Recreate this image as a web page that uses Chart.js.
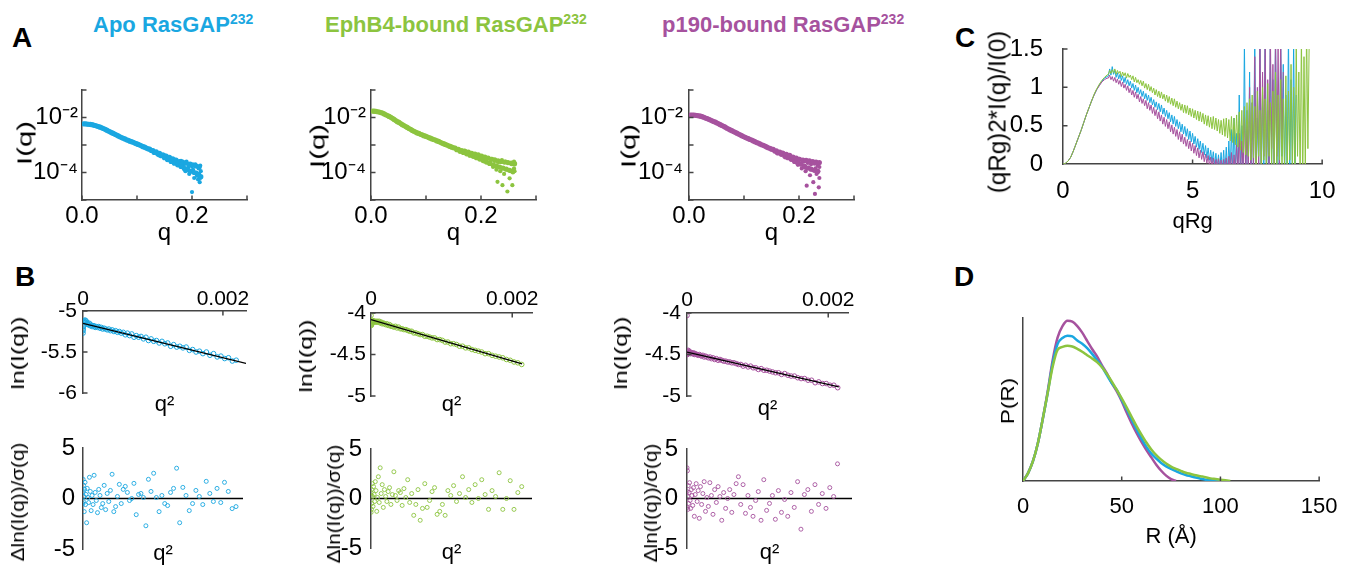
<!DOCTYPE html>
<html>
<head>
<meta charset="utf-8">
<script src="https://cdn.jsdelivr.net/npm/chart.js@4.4.1/dist/chart.umd.min.js"></script>
<style>
body { margin: 0; background: #fff; }
#fig { position: relative; width: 1353px; height: 569px; overflow: hidden; font-family: "Liberation Sans", Arial, sans-serif; }
#fig canvas { position: absolute; }
.letter { position: absolute; font-size: 28px; font-weight: bold; line-height: 1; color: #000; }
.coltitle { position: absolute; font-size: 22px; font-weight: bold; line-height: 1; white-space: nowrap; }
.coltitle span { font-size: 14px; position: relative; top: -8px; }
.ytitle { position: absolute; line-height: 1; white-space: nowrap; color: #000; }
</style>
</head>
<body>
<div id="fig">
  <div class="letter" style="left:12px;top:24px">A</div>
  <div class="letter" style="left:15px;top:263px">B</div>
  <div class="letter" style="left:955px;top:24px">C</div>
  <div class="letter" style="left:954px;top:263px">D</div>
  <div class="coltitle" style="left:93px;top:14px;color:#1aa7e1">Apo RasGAP<span>232</span></div>
  <div class="coltitle" style="left:325px;top:14px;color:#8cc43f">EphB4-bound RasGAP<span>232</span></div>
  <div class="coltitle" style="left:662px;top:14px;color:#a6529e">p190-bound RasGAP<span>232</span></div>
</div>
<script>
var BLUE = '#1aa7e1', GREEN = '#8cc43f', PURPLE = '#a6529e';
var AXIS = '#444';
var FAMILY = '"Liberation Sans", Arial, sans-serif';

var qGridA = [0.003,0.006,0.009,0.012,0.015,0.018,0.021,0.024,0.027,0.03,
  0.033,0.036,0.039,0.042,0.045,0.048,0.051,0.054,0.057,0.06,
  0.063,0.066,0.069,0.072,0.075,0.078,0.081,0.084,0.087,0.09,
  0.093,0.096,0.099,0.102,0.105,0.108,0.111,0.114,0.117,0.12,
  0.123,0.126,0.129,0.132,0.135,0.138,0.141,0.144,0.147,0.15,
  0.153,0.156,0.159,0.162,0.165,0.168,0.171,0.174,0.177,0.18,
  0.183,0.186,0.189,0.192,0.195,0.198,0.201,0.204,0.207,0.21,
  0.213,0.216,0.219,0.222,0.225,0.228,0.231,0.234,0.237,0.24,
  0.243,0.246,0.249,0.252,0.255,0.258,0.261];
var apoLogI = [-2.23,-2.23,-2.24,-2.245,-2.25,-2.26,-2.275,-2.29,-2.31,-2.33,
  -2.35,-2.375,-2.40,-2.43,-2.46,-2.49,-2.52,-2.55,-2.58,-2.61,
  -2.64,-2.67,-2.70,-2.73,-2.755,-2.78,-2.81,-2.83,-2.86,-2.88,
  -2.90,-2.93,-2.95,-2.98,-3.00,-3.03,-3.06,-3.08,-3.11,-3.14,
  -3.15,-3.20,-3.20,-3.27,-3.25,-3.33,-3.30,-3.39,-3.36,-3.46,
  -3.40,-3.52,-3.45,-3.60,-3.50,-3.66,-3.55,-3.72,-3.60,-3.78,
  -3.62,-3.85,-3.66,-3.90,-3.70,-3.95,-3.72,-4.00,-3.76,-4.10,
  -3.80,-4.15];
var ephLogI = [-1.77,-1.77,-1.78,-1.79,-1.80,-1.82,-1.84,-1.87,-1.90,-1.93,
  -1.96,-1.995,-2.03,-2.07,-2.11,-2.15,-2.18,-2.22,-2.26,-2.29,
  -2.33,-2.36,-2.40,-2.43,-2.47,-2.50,-2.53,-2.56,-2.58,-2.61,
  -2.63,-2.66,-2.68,-2.70,-2.73,-2.75,-2.78,-2.80,-2.82,-2.85,
  -2.87,-2.90,-2.93,-2.95,-2.98,-3.00,-3.03,-3.05,-3.08,-3.10,
  -3.11,-3.17,-3.16,-3.23,-3.20,-3.27,-3.23,-3.32,-3.26,-3.37,
  -3.30,-3.41,-3.33,-3.46,-3.36,-3.51,-3.40,-3.56,-3.44,-3.62,
  -3.48,-3.67,-3.52,-3.72,-3.54,-3.76,-3.58,-3.80,-3.60,-3.84,
  -3.62,-3.88,-3.64,-3.92,-3.66,-3.95,-3.68];
var p190LogI = [-1.91,-1.91,-1.915,-1.92,-1.93,-1.94,-1.95,-1.97,-1.99,-2.02,
  -2.04,-2.065,-2.09,-2.12,-2.145,-2.17,-2.20,-2.23,-2.26,-2.29,
  -2.32,-2.35,-2.39,-2.42,-2.45,-2.48,-2.51,-2.54,-2.57,-2.60,
  -2.63,-2.66,-2.69,-2.72,-2.745,-2.77,-2.80,-2.82,-2.85,-2.88,
  -2.91,-2.93,-2.96,-2.99,-3.01,-3.04,-3.07,-3.10,-3.12,-3.15,
  -3.16,-3.22,-3.21,-3.29,-3.26,-3.34,-3.30,-3.40,-3.34,-3.46,
  -3.38,-3.52,-3.44,-3.60,-3.48,-3.66,-3.52,-3.70,-3.55,-3.78,
  -3.56,-3.84,-3.58,-3.88,-3.60,-3.92,-3.62,-3.96,-3.64];
// scattered high-q points
var apoTailQ = [0.13,0.14,0.15,0.155,0.16,0.165,0.17,0.175,0.18,0.182,0.185,0.188,0.19,0.193,0.195,
  0.197,0.2,0.2,0.202,0.204,0.206,0.208,0.21,0.211,0.212,0.213,0.214,0.215,0.215,0.216];
var apoTailLogI = [-3.28,-3.38,-3.38,-3.55,-3.47,-3.62,-3.54,-3.68,-3.58,-3.75,-3.7,-3.95,-3.6,-3.82,-4.05,
  -3.68,-3.78,-4.71,-3.9,-4.2,-3.7,-4.0,-3.78,-4.25,-3.85,-4.05,-4.35,-3.75,-4.2,-3.95];
var ephTailQ = [0.17,0.18,0.19,0.2,0.205,0.21,0.215,0.22,0.222,0.225,0.228,0.23,0.232,0.235,0.238,
  0.239,0.24,0.242,0.245,0.248,0.248,0.25,0.252,0.254,0.256,0.257,0.258,0.26,0.26,0.261];
var ephTailLogI = [-3.2,-3.38,-3.45,-3.4,-3.6,-3.48,-3.68,-3.5,-3.8,-3.58,-3.9,-4.34,-3.62,-3.95,-3.55,
  -4.46,-3.85,-4.05,-3.6,-3.9,-4.69,-3.65,-4.21,-3.95,-3.7,-4.46,-4.0,-3.6,-3.85,-3.95];
var p190TailQ = [0.16,0.17,0.175,0.18,0.185,0.19,0.195,0.198,0.2,0.203,0.205,0.208,0.21,0.212,0.214,
  0.216,0.218,0.22,0.222,0.224,0.226,0.228,0.229,0.23,0.232,0.234,0.235,0.236,0.237,0.237];
var p190TailLogI = [-3.3,-3.28,-3.45,-3.38,-3.52,-3.45,-3.6,-3.72,-3.5,-3.68,-3.85,-3.6,-3.75,-3.95,-4.48,
  -3.65,-3.82,-4.1,-3.7,-3.9,-4.35,-3.68,-4.78,-3.85,-4.05,-3.75,-3.95,-4.54,-3.8,-4.2];
var qTicksA = [0, 0.1, 0.2, 0.3];
var qLabelsA = ['0.0', '', '0.2', ''];
var iTicksA = [1e-5, 1e-4, 1e-3, 1e-2, 1e-1];
var iLabelsA = ['', '10\u207B\u2074', '', '10\u207B\u00B2', ''];

// ---- panel B : Guinier region (q^2, ln I) and residuals ----
var q2Grid = [0.0000004,0.0000014,0.0000032,0.0000058,0.000009,0.000013,0.0000176,0.000023,0.0000292,0.000036,
  0.0000436,0.0000518,0.0000608,0.0000706,0.000081,0.0000922,0.000104,0.0001166,0.00013,0.000144,
  0.0001588,0.0001742,0.0001904,0.0002074,0.000225,0.0002434,0.0002624,0.0002822,0.0003028,0.000324,
  0.000346,0.0003686,0.000392,0.0004162,0.000441,0.0004666,0.0004928,0.0005198,0.0005476,0.000576,
  0.0006052,0.000635,0.0006656,0.000697,0.000729,0.0007618,0.0007952,0.0008294,0.0008644,0.0009,
  0.0009364,0.0009734,0.0010112,0.0010498,0.001089,0.001129,0.0011696,0.001211,0.0012532,0.001296,
  0.0013396,0.0013838,0.0014288,0.0014746,0.001521,0.0015682,0.001616,0.0016646,0.001714,0.001764,
  0.0018148,0.0018662,0.0019184,0.0019714,0.002025,0.0020794,0.0021344,0.0021902];
var apoLnI = [-5.27,-5.24,-5.22,-5.19,-5.17,-5.14,-5.12,-5.13,-5.11,-5.14,
  -5.12,-5.16,-5.14,-5.16,-5.17,-5.15,-5.18,-5.17,-5.19,-5.18,
  -5.18,-5.20,-5.19,-5.20,-5.19,-5.21,-5.20,-5.22,-5.21,-5.22,
  -5.23,-5.22,-5.24,-5.23,-5.25,-5.24,-5.26,-5.25,-5.27,-5.26,
  -5.29,-5.27,-5.30,-5.28,-5.32,-5.30,-5.32,-5.31,-5.34,-5.32,
  -5.36,-5.34,-5.37,-5.36,-5.39,-5.37,-5.40,-5.39,-5.43,-5.41,
  -5.44,-5.43,-5.45,-5.44,-5.48,-5.47,-5.50,-5.49,-5.52,-5.50,
  -5.54,-5.52,-5.56,-5.55,-5.58,-5.57,-5.61,-5.60];
var ephLnI = [-4.03,-4.13,-4.15,-4.11,-4.14,-4.10,-4.12,-4.09,-4.11,-4.10,
  -4.10,-4.10,-4.11,-4.10,-4.11,-4.10,-4.11,-4.10,-4.12,-4.11,
  -4.13,-4.12,-4.13,-4.14,-4.13,-4.15,-4.14,-4.16,-4.16,-4.17,
  -4.16,-4.18,-4.17,-4.19,-4.19,-4.20,-4.20,-4.21,-4.22,-4.22,
  -4.24,-4.24,-4.25,-4.26,-4.26,-4.28,-4.28,-4.29,-4.30,-4.30,
  -4.32,-4.32,-4.33,-4.35,-4.35,-4.37,-4.37,-4.38,-4.40,-4.40,
  -4.42,-4.42,-4.44,-4.45,-4.46,-4.47,-4.49,-4.49,-4.51,-4.52,
  -4.53,-4.54,-4.56,-4.57,-4.59,-4.60,-4.62];
var p190LnI = [-4.03,-4.49,-4.47,-4.50,-4.46,-4.49,-4.45,-4.48,-4.46,-4.48,
  -4.47,-4.49,-4.48,-4.48,-4.49,-4.48,-4.50,-4.49,-4.50,-4.50,
  -4.51,-4.50,-4.51,-4.52,-4.51,-4.53,-4.52,-4.53,-4.54,-4.53,
  -4.55,-4.54,-4.56,-4.55,-4.57,-4.56,-4.57,-4.58,-4.58,-4.59,
  -4.59,-4.60,-4.60,-4.61,-4.62,-4.62,-4.64,-4.63,-4.65,-4.64,
  -4.66,-4.66,-4.68,-4.67,-4.69,-4.69,-4.70,-4.71,-4.72,-4.72,
  -4.74,-4.73,-4.75,-4.76,-4.76,-4.78,-4.79,-4.79,-4.81,-4.81,
  -4.84,-4.83,-4.85,-4.85,-4.87,-4.87,-4.90];
var apoFitQ2 = [0, 0.00233], apoFitLnI = [-5.15, -5.64];
var ephFitQ2 = [0, 0.00214], ephFitLnI = [-4.08, -4.613];
var p190FitQ2 = [0, 0.00215], p190FitLnI = [-4.47, -4.89];
var apoRes = [-0.5,1.9,0.7,-0.3,1.3,0.2,-1.3,0.9,1.6,-0.6,
  0.4,-2.4,1.0,0.1,-0.4,2.1,0.7,-1.2,0.3,-0.6,
  2.3,0.6,-0.2,-1.4,0.9,0.3,-0.9,-0.5,1.3,-1.1,
  0.5,-0.3,0.8,2.4,-1.3,-0.8,0.2,1.4,-0.5,0.9,
  1.2,0.6,-0.2,0.0,1.5,-1.6,0.4,0.5,0.1,-2.7,
  1.9,0.7,2.5,0.1,-1.3,0.3,-0.5,-0.7,0.6,1.0,
  3.0,-2.4,1.1,0.3,-1.2,-0.5,0.8,0.2,-0.6,1.7,
  0.5,-0.3,1.0,-0.4,1.6,0.7,-1.0,-0.8];
var ephRes = [0.6,-1.4,0.3,-1.1,0.9,-0.5,1.5,0.2,-0.8,1.2,
  0.4,-0.3,1.7,0.8,-1.3,0.1,2.2,-0.4,3.1,0.5,
  1.4,-0.9,0.9,0.2,-0.3,0.7,1.1,-0.6,0.4,2.7,
  0.3,-0.2,0.8,0.6,-0.7,1.0,0.1,1.9,-0.4,0.5,
  -1.7,-0.6,0.9,-2.2,-1.0,1.5,-0.9,-0.2,0.7,1.1,
  -1.6,-1.3,-0.6,-1.7,0.8,0.3,1.3,-0.3,0.5,2.2,
  0.1,0.9,-0.4,1.4,0.0,1.9,0.4,-1.1,0.8,0.2,
  2.6,-1.1,0.0,1.8,-1.1,0.6,1.2];
var p190Res = [3.1,0.7,-0.9,2.8,0.2,-1.1,1.3,-0.5,0.6,1.6,
  -0.2,-1.0,0.9,0.3,-0.7,1.1,-1.8,0.4,1.5,-0.3,
  0.8,-2.0,1.2,-0.6,0.5,1.7,-1.3,0.1,-0.8,1.6,
  0.3,-1.6,0.9,-0.4,1.2,0.2,-2.2,0.6,-1.0,0.0,
  0.9,-1.4,0.4,1.5,2.2,-0.6,1.4,-1.5,0.3,-0.9,
  -1.8,-0.2,0.7,-2.2,1.9,-1.2,-0.5,0.3,-2.1,0.8,
  -1.4,-0.1,-1.8,0.6,-0.9,1.7,-3.1,0.4,0.9,-1.3,
  1.4,-0.6,0.5,-1.0,1.1,0.2,3.5];

// ---- panel C : dimensionless Kratky ----
var qRgGrid = [0,0.1,0.2,0.3,0.4,0.5,0.6,0.7,0.8,0.9,1.0,1.1,1.2,1.3,1.4,1.5,1.6,1.7,
  1.75,1.8,1.85,1.9,1.95,2.0,2.05,2.1,2.15,2.2,
  2.25,2.3,2.35,2.4,2.45,2.5,2.55,2.6,2.65,2.7,
  2.75,2.8,2.85,2.9,2.95,3.0,3.05,3.1,3.15,3.2,
  3.25,3.3,3.35,3.4,3.45,3.5,3.55,3.6,3.65,3.7,
  3.75,3.8,3.85,3.9,3.95,4.0,4.05,4.1,4.15,4.2,
  4.25,4.3,4.35,4.4,4.45,4.5,4.55,4.6,4.65,4.7,
  4.75,4.8,4.85,4.9,4.95,5.0,5.05,5.1,5.15,5.2,
  5.25,5.3,5.35,5.4,5.45,5.5,5.55,5.6,5.65,5.7,
  5.75,5.8,5.85,5.9,5.95,6.0,6.05,6.1,6.15,6.2,
  6.25,6.3,6.35,6.4,6.45,6.5,6.55,6.6,6.65,6.7,
  6.75,6.8,6.85,6.9,6.95,7.0,7.05,7.1,7.15,7.2,
  7.25,7.3,7.35,7.4,7.45,7.5,7.55,7.6,7.65,7.7,
  7.75,7.8,7.85,7.9,7.95,8.0,8.05,8.1,8.15,8.2,
  8.25,8.3,8.35,8.4,8.45,8.5,8.55,8.6,8.65,8.7,
  8.75,8.8,8.85,8.9,8.95,9.0,9.05,9.1,9.15,9.2,
  9.25,9.3,9.35,9.4,9.45,9.5];
var ephKratky = [0,0.01,0.04,0.09,0.17,0.26,0.35,0.44,0.54,0.64,0.73,0.82,0.91,0.98,1.04,1.09,1.13,1.16,
  1.17,1.22,1.18,1.23,1.19,1.24,1.17,1.22,1.18,1.21,
  1.14,1.20,1.15,1.19,1.12,1.18,1.13,1.16,1.10,1.15,
  1.07,1.13,1.06,1.10,1.04,1.09,1.02,1.08,0.99,1.05,
  0.97,1.04,0.95,1.01,0.93,0.99,0.90,0.97,0.88,0.95,
  0.86,0.94,0.85,0.91,0.82,0.90,0.80,0.88,0.78,0.86,
  0.76,0.85,0.74,0.82,0.72,0.80,0.70,0.78,0.67,0.77,
  0.66,0.76,0.64,0.73,0.62,0.72,0.60,0.70,0.58,0.69,
  0.56,0.68,0.55,0.66,0.52,0.64,0.50,0.63,0.48,0.61,
  0.46,0.62,0.45,0.60,0.43,0.58,0.40,0.57,0.38,0.59,
  0.36,0.60,0.34,0.58,0.30,0.62,0.28,0.60,0.25,0.64,
  0.22,0.68,0.18,0.70,0.15,0.75,0.12,0.80,0.10,0.85,
  0.05,0.90,0.08,0.75,0.00,0.95,0.10,0.70,-0.05,1.00,
  0.05,0.85,-0.10,1.05,0.10,0.80,-0.05,0.95,0.00,1.20,
  -0.10,0.90,0.05,1.10,-0.15,0.85,0.00,1.15,-0.20,0.95,
  0.05,1.30,-0.10,1.00,-0.30,1.60,0.10,1.20,-0.20,1.70,
  -0.30,1.40,-0.10,1.80,0.20,1.60];
var apoKratky = [0,0.01,0.04,0.09,0.17,0.26,0.35,0.44,0.54,0.64,0.73,0.82,0.90,0.97,1.03,1.08,1.12,1.14,
  1.15,1.24,1.16,1.27,1.17,1.22,1.13,1.19,1.11,1.17,
  1.09,1.15,1.06,1.13,1.04,1.10,1.02,1.08,0.99,1.05,
  0.96,1.03,0.93,1.00,0.91,0.97,0.88,0.95,0.85,0.92,
  0.83,0.90,0.80,0.87,0.77,0.84,0.74,0.81,0.71,0.79,
  0.68,0.77,0.65,0.73,0.62,0.70,0.59,0.67,0.55,0.64,
  0.52,0.62,0.49,0.58,0.46,0.55,0.42,0.52,0.39,0.49,
  0.36,0.46,0.32,0.43,0.29,0.40,0.26,0.36,0.22,0.33,
  0.19,0.30,0.15,0.27,0.12,0.24,0.08,0.21,0.05,0.18,
  0.02,0.16,-0.02,0.14,-0.05,0.12,-0.06,0.15,-0.08,0.18,
  -0.10,0.22,-0.12,0.30,-0.10,0.45,-0.15,0.60,-0.10,0.40,
  -0.20,0.90,-0.10,0.50,-0.30,1.60,-0.20,0.70,-0.10,1.20,
  -0.30,0.80,-0.10,1.70,-0.20,0.60,0.00,1.60,-0.30,0.90,
  -0.10,1.80,-0.20,0.70,-0.30,1.50,0.00,1.10,-0.20,1.70,
  -0.10,0.80,-0.30,1.60,0.10,1.30,-0.20,0.90,-0.10,1.70,
  -0.20,1.10,0.00,1.60,-0.20,0.90];
var p190Kratky = [0,0.01,0.04,0.09,0.17,0.26,0.35,0.44,0.54,0.64,0.73,0.82,0.90,0.97,1.02,1.07,1.10,1.12,
  1.12,1.16,1.10,1.14,1.08,1.13,1.06,1.11,1.04,1.09,
  1.01,1.07,0.99,1.04,0.96,1.02,0.93,0.99,0.90,0.96,
  0.87,0.94,0.85,0.91,0.81,0.88,0.79,0.85,0.76,0.83,
  0.72,0.80,0.70,0.77,0.66,0.74,0.63,0.71,0.59,0.68,
  0.56,0.64,0.52,0.61,0.49,0.58,0.46,0.55,0.42,0.51,
  0.39,0.48,0.36,0.45,0.32,0.42,0.29,0.39,0.26,0.35,
  0.23,0.32,0.20,0.30,0.17,0.27,0.14,0.24,0.11,0.21,
  0.08,0.18,0.06,0.16,0.03,0.13,0.01,0.11,-0.02,0.09,
  -0.04,0.08,-0.05,0.06,-0.06,0.07,-0.08,0.05,-0.10,0.06,
  -0.10,0.08,-0.12,0.10,-0.10,0.15,-0.15,0.12,-0.10,0.25,
  -0.10,0.40,-0.20,0.30,-0.10,0.70,-0.20,0.50,-0.10,1.00,
  -0.20,0.80,-0.10,1.40,-0.20,1.00,0.00,1.70,-0.10,1.20,
  0.10,1.60,-0.10,1.10,0.00,1.80,0.20,1.30,-0.10,1.70,
  0.10,1.50,0.00,1.70,0.30,1.20];

// ---- panel D : pair distance distribution ----
var rGrid = [0,2.5,5,7.5,10,12.5,15,17.5,20,22.5,25,27.5,30,32.5,35,37.5,40,42.5,45,47.5,
  50,52.5,55,57.5,60,62.5,65,67.5,70,72.5,75,77.5,80,82.5,85,87.5,90,92.5,95,97.5,100,102.5,105];
var p190Pr = [0,0.047,0.12,0.23,0.38,0.55,0.74,0.88,0.95,0.983,
  0.978,0.95,0.91,0.86,0.81,0.765,0.71,0.66,0.60,0.55,
  0.49,0.42,0.355,0.295,0.24,0.19,0.145,0.10,0.063,0.033,
  0.012,0];
var apoPr = [0,0.047,0.12,0.23,0.38,0.54,0.72,0.84,0.877,0.891,
  0.887,0.862,0.842,0.815,0.78,0.741,0.70,0.649,0.60,0.559,
  0.499,0.44,0.378,0.316,0.261,0.209,0.168,0.138,0.111,0.09,
  0.074,0.06,0.047,0.037,0.029,0.021,0.014,0.008,0.004,0.002,
  0];
var ephPr = [0,0.047,0.12,0.23,0.38,0.54,0.70,0.805,0.823,0.83,
  0.825,0.811,0.793,0.772,0.752,0.729,0.698,0.657,0.61,0.559,
  0.507,0.452,0.394,0.337,0.285,0.236,0.193,0.158,0.131,0.107,
  0.088,0.074,0.062,0.051,0.043,0.035,0.029,0.023,0.016,0.012,
  0.008,0.004,0];

// ---------------------------------------------------------------
Chart.defaults.animation = false;
Chart.defaults.responsive = false;
Chart.defaults.devicePixelRatio = 1;
Chart.defaults.events = [];
Chart.defaults.font.family = FAMILY;
Chart.defaults.plugins.legend.display = false;
Chart.defaults.plugins.tooltip.enabled = false;

function font(size) { return { family: FAMILY, size: size, lineHeight: 1 }; }

// short tick marks drawn inside the axes
var inwardTicks = {
  id: 'inwardTicks',
  afterDatasetsDraw: function(chart, args, opts) {
    var a = chart.chartArea, ctx = chart.ctx, len = 4.5;
    ctx.save();
    ctx.strokeStyle = AXIS;
    ctx.lineWidth = 1.5;
    ctx.beginPath();
    (opts.x || []).forEach(function(v) {
      var sx = chart.scales.x, px = sx.getPixelForValue(v);
      var top = sx.position === 'top';
      var y0 = top ? a.top : a.bottom;
      ctx.moveTo(px, y0);
      ctx.lineTo(px, top ? y0 + len : y0 - len);
    });
    (opts.y || []).forEach(function(v) {
      var py = chart.scales.y.getPixelForValue(v);
      ctx.moveTo(a.left, py);
      ctx.lineTo(a.left + len, py);
    });
    ctx.stroke();
    ctx.restore();
  }
};
Chart.register(inwardTicks);

function axis(o) {
  return {
    type: o.type || 'linear',
    position: o.pos,
    min: o.min, max: o.max,
    grid: { display: false, drawTicks: false },
    border: { display: o.border !== false, color: AXIS, width: 1.5 },
    ticks: {
      display: !!o.ticks,
      autoSkip: false, maxRotation: 0, padding: o.pad || 0,
      font: font(o.fs || 22), color: '#000',
      callback: function(v, i) { return o.labels ? o.labels[i] : v; }
    },
    afterBuildTicks: function(s) {
      if (o.ticks) s.ticks = o.ticks.map(function(v) { return { value: v }; });
    },
    afterFit: function(s) {
      if (s.isHorizontal()) s.height = o.size; else s.width = o.size;
    },
    title: o.title ? { display: true, text: o.title, font: font(o.tfs || 24), color: '#000', padding: o.tpad } : { display: false }
  };
}

// area = chart area in page pixels, m = margins around it
function addChart(area, m, config) {
  var cv = document.createElement('canvas');
  cv.width = m.L + (area.r - area.l) + m.R;
  cv.height = m.T + (area.b - area.t) + m.B;
  cv.style.left = (area.l - m.L) + 'px';
  cv.style.top = (area.t - m.T) + 'px';
  document.getElementById('fig').appendChild(cv);
  return new Chart(cv.getContext('2d'), config);
}

// rotated y-axis titles, centred at (cx, cy)
function yTitle(text, cx, cy, size, stretch) {
  var d = document.createElement('div');
  d.className = 'ytitle';
  d.textContent = text;
  d.style.left = cx + 'px';
  d.style.top = cy + 'px';
  d.style.fontSize = size + 'px';
  d.style.transform = 'translate(-50%, -50%) rotate(-90deg) scaleX(' + stretch + ')';
  document.getElementById('fig').appendChild(d);
}

function pairs(xs, ys, fy) {
  return ys.map(function(y, i) { return { x: xs[i], y: fy ? fy(y) : y }; });
}
function fromLog(v) { return Math.pow(10, v); }

// ---- A ----
function profileChart(area, L, ypad, logI, tailQ, tailLogI, color) {
  addChart(area, { L: L, T: 30, R: 20, B: 50 }, {
    type: 'scatter',
    data: { datasets: [
      { data: pairs(qGridA, logI, fromLog), backgroundColor: color, pointRadius: 2.6, borderWidth: 0 },
      { data: pairs(tailQ, tailLogI, fromLog), backgroundColor: color, pointRadius: 2.1, borderWidth: 0 }
    ] },
    options: {
      layout: { padding: { top: 30, right: 20 } },
      scales: {
        x: axis({ pos: 'bottom', min: 0, max: 0.3, ticks: qTicksA, labels: qLabelsA, pad: 4.5, fs: 24, size: 50,
                  title: 'q', tfs: 24, tpad: { top: 0, bottom: 5 } }),
        y: axis({ type: 'logarithmic', pos: 'left', min: 1e-5, max: 1e-1, ticks: iTicksA, labels: iLabelsA,
                  pad: ypad, fs: 24, size: L })
      },
      plugins: { inwardTicks: { x: qTicksA, y: iTicksA } }
    }
  });
}
profileChart({ l: 82, t: 90, r: 247, b: 200 }, 82, 4, apoLogI, apoTailQ, apoTailLogI, BLUE);
profileChart({ l: 371, t: 90, r: 536, b: 200 }, 71, 5, ephLogI, ephTailQ, ephTailLogI, GREEN);
profileChart({ l: 689, t: 90, r: 854, b: 200 }, 89, 6, p190LogI, p190TailQ, p190TailLogI, PURPLE);
yTitle('I(q)', 23.5, 142.5, 21, 1.4);
yTitle('I(q)', 316.5, 145.5, 21, 1.4);
yTitle('I(q)', 627.5, 146, 21, 1.4);

// ---- B : Guinier ----
var guinierX = [0, 0.002];
function guinierChart(area, L, xmax, yTicks, yLabels, lnI, fitQ2, fitLnI, color, p) {
  addChart(area, { L: L, T: 40, R: 20, B: 30 }, {
    type: 'scatter',
    data: { datasets: [
      { data: pairs(fitQ2, fitLnI), showLine: true, borderColor: '#000', borderWidth: 1.3, pointRadius: 0 },
      { data: pairs(q2Grid, lnI), borderColor: color, backgroundColor: 'rgba(255,255,255,0)', pointRadius: 2.3, borderWidth: 1 }
    ] },
    options: {
      layout: { padding: { right: 20 } },
      scales: {
        x: axis({ pos: 'top', min: 0, max: xmax, ticks: guinierX, labels: ['0', '0.002'], pad: p.xpad, fs: 21, size: 40 }),
        x2: axis({ pos: 'bottom', border: false, size: 30, title: 'q\u00B2', tfs: 22, tpad: { top: 0, bottom: p.x2pad } }),
        y: axis({ pos: 'left', min: yTicks[0], max: yTicks[2], ticks: yTicks, labels: yLabels, pad: p.ypad, fs: 21, size: L })
      },
      plugins: { inwardTicks: { x: [0.002], y: yTicks } }
    }
  });
}
guinierChart({ l: 83, t: 311, r: 246, b: 393 }, 83, 0.00233, [-6, -5.5, -5], ['-6', '-5.5', '-5'],
  apoLnI, apoFitQ2, apoFitLnI, BLUE, { xpad: 1.5, x2pad: 7, ypad: 6 });
guinierChart({ l: 371, t: 313, r: 532, b: 396 }, 80, 0.00228, [-5, -4.5, -4], ['-5', '-4.5', '-4'],
  ephLnI, ephFitQ2, ephFitLnI, GREEN, { xpad: 3, x2pad: 10, ypad: 5 });
guinierChart({ l: 687, t: 313, r: 848, b: 396 }, 87, 0.00228, [-5, -4.5, -4], ['-5', '-4.5', '-4'],
  p190LnI, p190FitQ2, p190FitLnI, PURPLE, { xpad: 2, x2pad: 6, ypad: 6 });
yTitle('ln(I(q))', 17.5, 352.5, 18, 1.38);
yTitle('ln(I(q))', 305.5, 356, 18, 1.38);
yTitle('ln(I(q))', 620.5, 353, 18, 1.38);

// ---- B : residuals ----
var resTicks = [-5, 0, 5];
function residualChart(area, L, xmax, res, color, ypad) {
  addChart(area, { L: L, T: 15, R: 10, B: 16 }, {
    type: 'scatter',
    data: { datasets: [
      { data: pairs(q2Grid, res), borderColor: color, backgroundColor: 'rgba(255,255,255,0)', pointRadius: 2, borderWidth: 0.9 },
      { data: pairs([0, xmax], [0, 0]), showLine: true, borderColor: '#000', borderWidth: 1.3, pointRadius: 0 }
    ] },
    options: {
      layout: { padding: { top: 15, right: 10 } },
      scales: {
        x: axis({ pos: 'bottom', min: 0, max: xmax, border: false, size: 16, title: 'q\u00B2', tfs: 22, tpad: { top: 0, bottom: 0 } }),
        y: axis({ pos: 'left', min: -5, max: 5, ticks: resTicks, labels: ['-5', '0', '5'], pad: ypad, fs: 24, size: L })
      }
    }
  });
}
residualChart({ l: 83, t: 443, r: 243, b: 553 }, 83, 0.00229, apoRes, BLUE, 8);
residualChart({ l: 371, t: 443, r: 532, b: 553 }, 80, 0.00228, ephRes, GREEN, 9);
residualChart({ l: 687, t: 443, r: 852, b: 553 }, 87, 0.00234, p190Res, PURPLE, 9);
yTitle('\u0394ln(I(q))/\u03C3(q)', 18, 502, 18, 1.15);
yTitle('\u0394ln(I(q))/\u03C3(q)', 333.5, 503.5, 18, 1.15);
yTitle('\u0394ln(I(q))/\u03C3(q)', 651, 503, 18, 1.15);

// ---- C : Kratky ----
function kratkySet(vals, color) {
  return { data: pairs(qRgGrid, vals), borderColor: color, borderWidth: 1, pointRadius: 0, clip: 0 };
}
var kratkyXTicks = [0, 5, 10], kratkyYTicks = [0, 0.5, 1, 1.5];
addChart({ l: 1063, t: 37, r: 1323, b: 164 }, { L: 60, T: 20, R: 28, B: 70 }, {
  type: 'line',
  data: { datasets: [kratkySet(ephKratky, GREEN), kratkySet(p190Kratky, PURPLE), kratkySet(apoKratky, BLUE)] },
  options: {
    layout: { padding: { top: 20, right: 28 } },
    scales: {
      x: axis({ pos: 'bottom', min: 0, max: 10, ticks: kratkyXTicks, labels: ['0', '5', '10'], pad: 15.5, fs: 24, size: 70,
                title: 'qRg', tfs: 22, tpad: { top: 0, bottom: 1 } }),
      y: axis({ pos: 'left', min: 0, max: 1.5, ticks: kratkyYTicks, labels: ['0', '0.5', '1', '1.5'], pad: 20, fs: 24, size: 60 })
    },
    plugins: { inwardTicks: { x: [5, 10], y: [0.5, 1, 1.5] } }
  }
});
yTitle('(qRg)2*I(q)/I(0)', 997.5, 111.5, 23, 1.05);

// ---- D : P(R) ----
function prSet(vals, color) {
  return { data: pairs(rGrid, vals), borderColor: color, borderWidth: 2.5, pointRadius: 0,
           cubicInterpolationMode: 'monotone', clip: 0 };
}
var rTicks = [0, 50, 100, 150];
addChart({ l: 1023, t: 318, r: 1332, b: 481 }, { L: 40, T: 15, R: 20, B: 70 }, {
  type: 'line',
  data: { datasets: [prSet(ephPr, GREEN), prSet(apoPr, BLUE), prSet(p190Pr, PURPLE)] },
  options: {
    layout: { padding: { top: 15, right: 20 } },
    scales: {
      x: axis({ pos: 'bottom', min: 0, max: 150, ticks: rTicks, labels: ['0', '50', '100', '150'], pad: 14.5, fs: 22, size: 70,
                title: 'R (\u00C5)', tfs: 22, tpad: { top: 0, bottom: 3.5 } }),
      y: axis({ pos: 'left', min: 0, max: 1, size: 40 })
    },
    plugins: { inwardTicks: { x: [50, 100, 150] } }
  }
});
yTitle('P(R)', 1007.5, 400.5, 18, 1.25);
</script>
</body>
</html>
